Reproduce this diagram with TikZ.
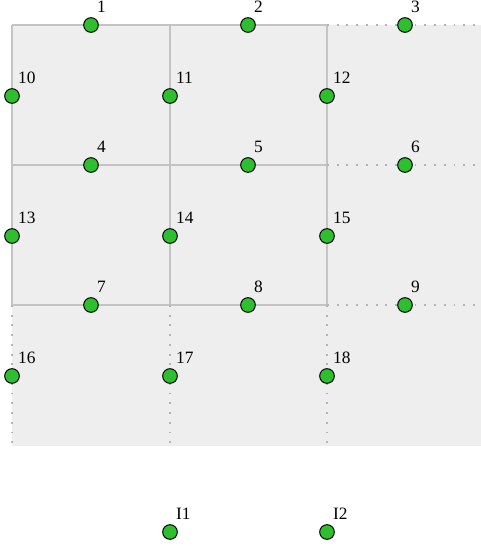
\documentclass[tikz,border=0pt]{standalone}
\usepackage{fontspec}
\setmainfont{Liberation Serif}
\usepackage{xcolor}
\usepackage{tikz}
\usetikzlibrary{positioning}
\definecolor{cell}{HTML}{EEEEEE}
\definecolor{gridc}{HTML}{C4C4C4}
\definecolor{dotc}{HTML}{B4B4B4}
\definecolor{site}{HTML}{2EBF2E}

\tikzset{
  pt/.style={circle, draw=black, line width=0.75pt, fill=site, minimum size=11pt, inner sep=0pt},
  lbl/.style={anchor=base west, inner sep=0pt, xshift=0.3pt, yshift=5pt, font=\fontsize{13}{15}\selectfont},
  solidline/.style={draw=gridc, line width=1.1pt},
  dotline/.style={draw=dotc, line width=1.5pt, dash pattern=on 1.4pt off 5.9pt}
}

\begin{document}
\begin{tikzpicture}[x=0.75pt, y=-0.75pt]
\useasboundingbox (0,0) rectangle (481,546);
\fill[cell] (12,25) rectangle (481,446);
% solid part of the mesh
\draw[solidline] (12,25) -- (327,25) (12,165) -- (327,165) (12,305) -- (327,305);
\draw[solidline] (12,25) -- (12,305) (170,25) -- (170,305) (327,25) -- (327,305);
% dotted part of the mesh
\draw[dotline] (327,25) -- (481,25) (327,165) -- (481,165) (327,305) -- (481,305);
\draw[dotline] (12,305) -- (12,446) (170,305) -- (170,446) (327,305) -- (327,446);
% nodes on horizontal edges
\node[pt, label={[lbl]45:1}] (p1) at (91,25) {};
\node[pt, label={[lbl]45:2}] (p2) at (248,25) {};
\node[pt, label={[lbl]45:3}] (p3) at (405,25) {};
\node[pt, label={[lbl]45:4}] (p4) at (91,165) {};
\node[pt, label={[lbl]45:5}] (p5) at (248,165) {};
\node[pt, label={[lbl]45:6}] (p6) at (405,165) {};
\node[pt, label={[lbl]45:7}] (p7) at (91,305) {};
\node[pt, label={[lbl]45:8}] (p8) at (248,305) {};
\node[pt, label={[lbl]45:9}] (p9) at (405,305) {};
% nodes on vertical edges
\node[pt, label={[lbl]45:10}] (p10) at (12,96) {};
\node[pt, label={[lbl]45:11}] (p11) at (170,96) {};
\node[pt, label={[lbl]45:12}] (p12) at (327,96) {};
\node[pt, label={[lbl]45:13}] (p13) at (12,236) {};
\node[pt, label={[lbl]45:14}] (p14) at (170,236) {};
\node[pt, label={[lbl]45:15}] (p15) at (327,236) {};
\node[pt, label={[lbl]45:16}] (p16) at (12,376) {};
\node[pt, label={[lbl]45:17}] (p17) at (170,376) {};
\node[pt, label={[lbl]45:18}] (p18) at (327,376) {};
% isolated nodes
\node[pt, label={[lbl]45:I1}] (i1) at (170,532) {};
\node[pt, label={[lbl]45:I2}] (i2) at (327,532) {};
\end{tikzpicture}
\end{document}
